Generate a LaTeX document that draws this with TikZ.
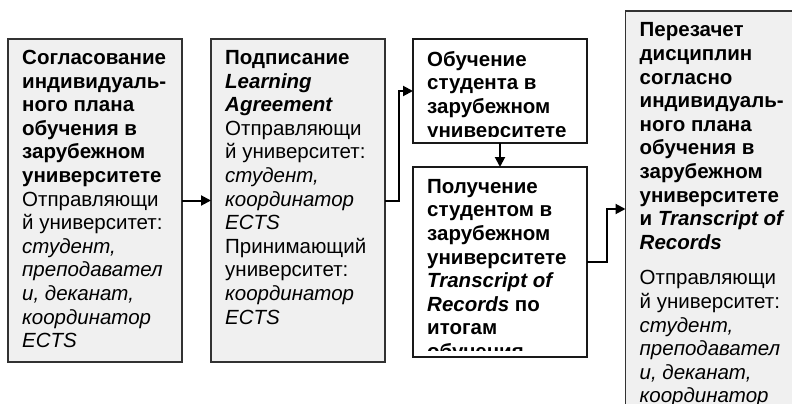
\documentclass[tikz,border=0pt]{standalone}
\usepackage{fontspec}
\setmainfont{Liberation Sans}
\usetikzlibrary{arrows.meta}
\definecolor{boxgray}{RGB}{240,240,240}
\definecolor{edgegray}{RGB}{50,50,50}
\tikzset{
  stepbox/.style={draw=edgegray, line width=1.6pt, inner sep=0pt, outer sep=0pt, anchor=north west},
  graybox/.style={stepbox, fill=boxgray},
  whitebox/.style={stepbox, fill=white, draw=black!90},
  boxtext/.style={anchor=north west, inner sep=0pt, align=left, font=\fontsize{20.5}{23.6}\selectfont},
  flow/.style={line width=2pt, -{Triangle[length=10pt,width=10pt]}},
}
\begin{document}
\begin{tikzpicture}[x=1pt,y=-1pt]
\useasboundingbox[fill=white] (0,0) rectangle (792,404);
% boxes
\node[graybox, minimum width=174pt, minimum height=323pt] (b1) at (8,39) {};
\node[graybox, minimum width=174pt, minimum height=323pt] (b2) at (211,39) {};
\node[whitebox, minimum width=174pt, minimum height=104pt] (b3) at (413,39) {};
\node[whitebox, minimum width=174pt, minimum height=190pt] (b4) at (413,167) {};
\node[graybox, minimum width=200pt, minimum height=430pt] (b5) at (625.5,11) {};
% texts
\node[boxtext] (t1) at (22,47.8) {\strut\textbf{Согласование}\\
\textbf{индивидуаль-}\\
\textbf{ного плана}\\
\textbf{обучения в}\\
\textbf{зарубежном}\\
\textbf{университете}\\
Отправляющи\\
й университет:\\
\textit{студент,}\\
\textit{преподавател}\\
\textit{и, деканат,}\\
\textit{координатор}\\
\textit{ECTS}};
\node[boxtext] (t2) at (225,47.8) {\strut\textbf{Подписание}\\
\textbf{\textit{Learning}}\\
\textbf{\textit{Agreement}}\\
Отправляющи\\
й университет:\\
\textit{студент,}\\
\textit{координатор}\\
\textit{ECTS}\\
Принимающий\\
университет:\\
\textit{координатор}\\
\textit{ECTS}};
\begin{scope}
\clip (413,39) rectangle (587,136);
\node[boxtext] (t3) at (427,49.5) {\strut\textbf{Обучение}\\
\textbf{студента в}\\
\textbf{зарубежном}\\
\textbf{университете}};
\end{scope}
\begin{scope}
\clip (413,167) rectangle (587,350);
\node[boxtext] (t4) at (427,176.5) {\strut\textbf{Получение}\\
\textbf{студентом в}\\
\textbf{зарубежном}\\
\textbf{университете}\\
\textbf{\textit{Transcript of}}\\
\textbf{\textit{Records} по}\\
\textbf{итогам}\\
\textbf{обучения}};
\end{scope}
\node[boxtext] (t5) at (639.5,20.2) {\strut\textbf{Перезачет}\\
\textbf{дисциплин}\\
\textbf{согласно}\\
\textbf{индивидуаль-}\\
\textbf{ного плана}\\
\textbf{обучения в}\\
\textbf{зарубежном}\\
\textbf{университете}\\
\textbf{и \textit{Transcript of}}\\
\textbf{\textit{Records}}\\[12pt]
Отправляющи\\
й университет:\\
\textit{студент,}\\
\textit{преподавател}\\
\textit{и, деканат,}\\
\textit{координатор}};
% connectors
\coordinate (in5) at (625.5,209);
\draw[flow] (b1.east) -- (b2.west);
\draw[flow] (b2.east) -- ++(14,0) |- (b3.west);
\draw[flow] (b3.south) -- (b4.north);
\draw[flow] (b4.east) -- ++(20,0) |- (in5);
\end{tikzpicture}
\end{document}
